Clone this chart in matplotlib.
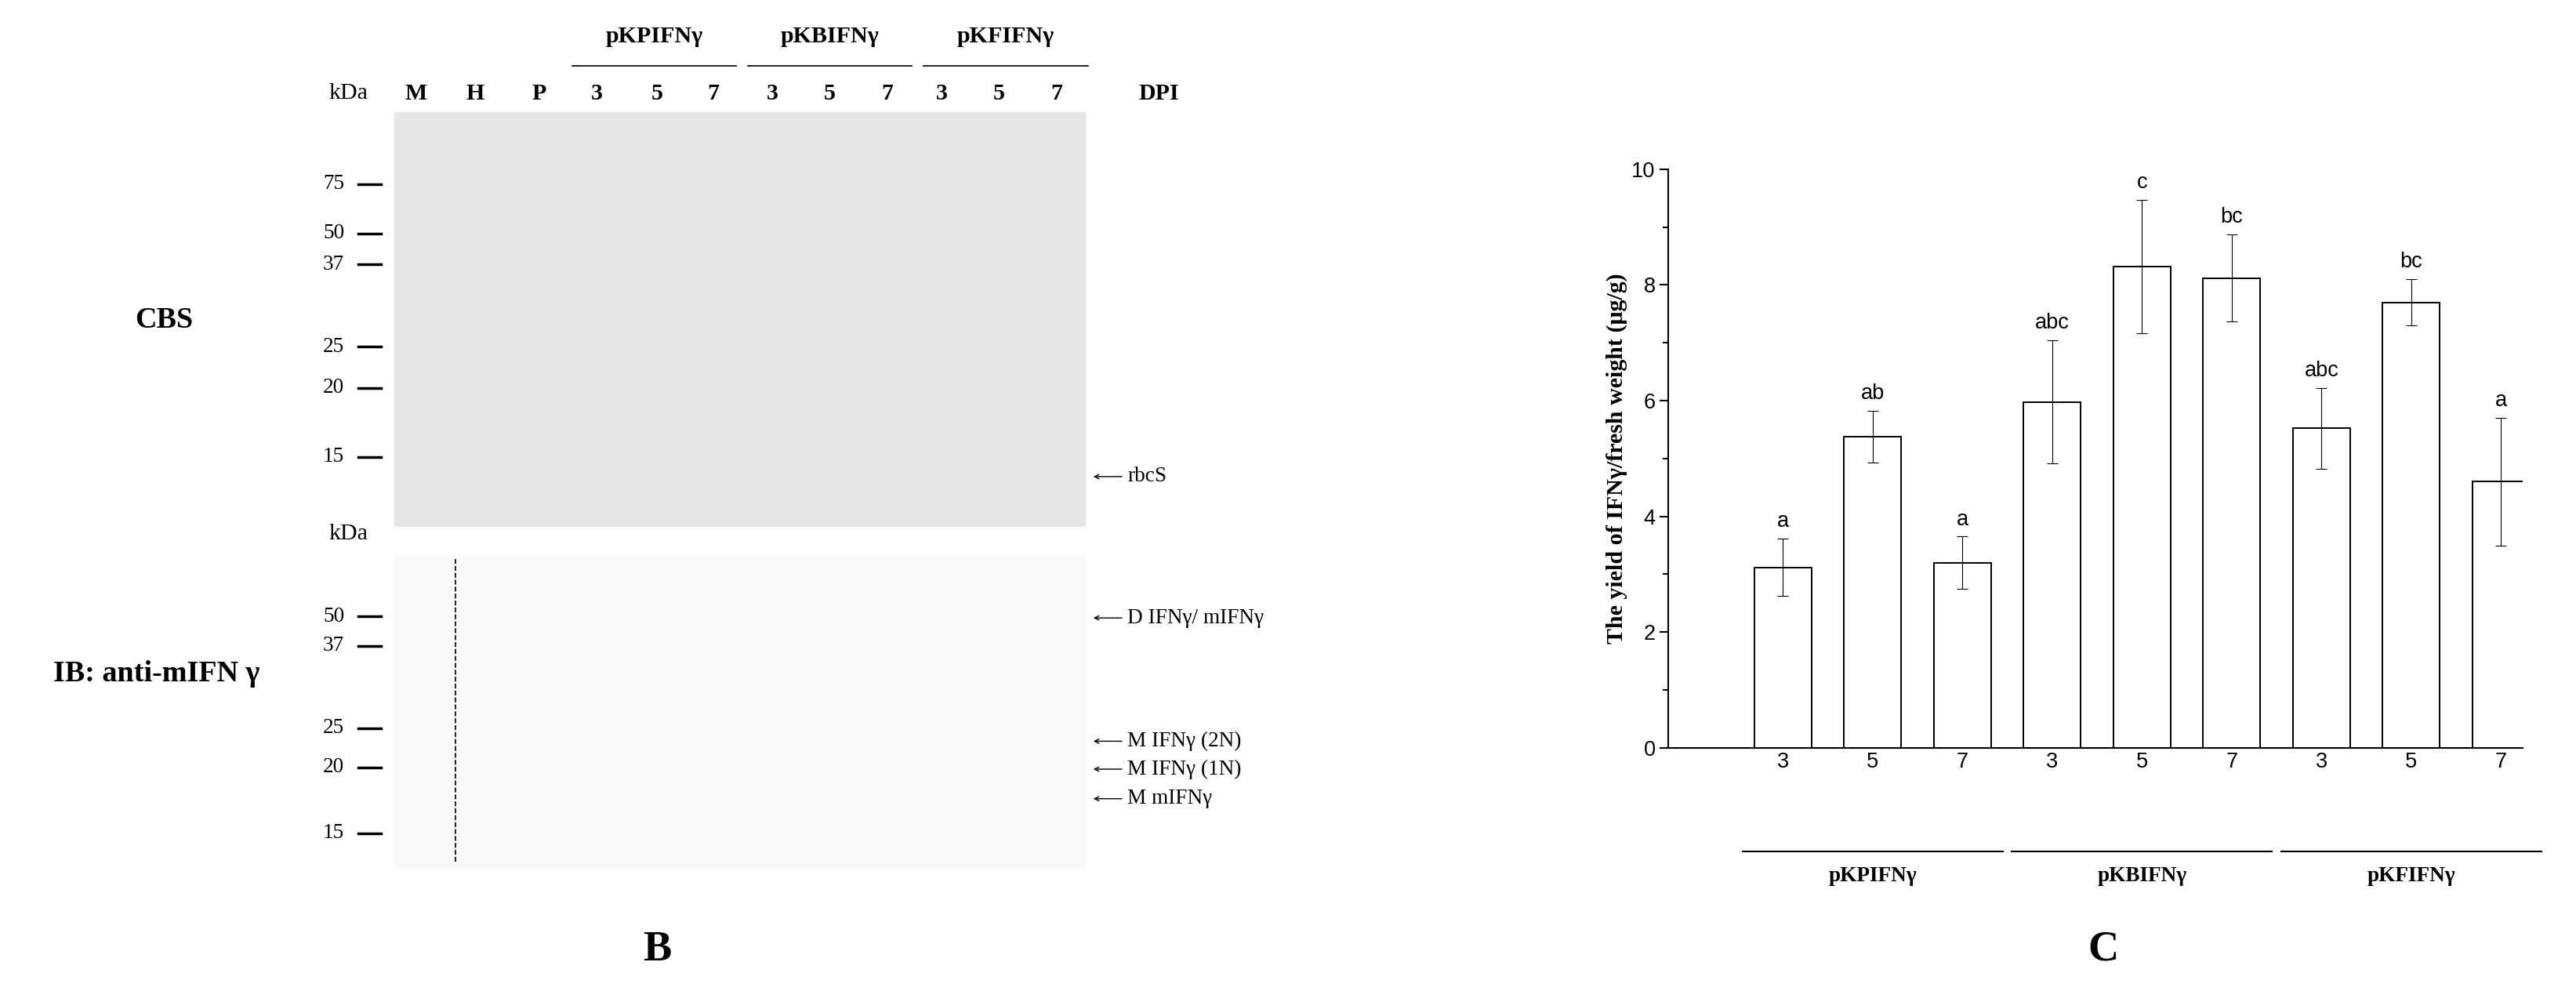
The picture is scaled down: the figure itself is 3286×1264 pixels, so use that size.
import matplotlib
matplotlib.use("Agg")
import matplotlib.pyplot as plt
from matplotlib.patches import Rectangle

groups = ["pKPIFNγ", "pKBIFNγ", "pKFIFNγ"]
days = ["3", "5", "7"]
values = [3.12, 5.38, 3.20, 5.98, 8.32, 8.12, 5.52, 7.70, 4.60]
errors = [0.50, 0.45, 0.45, 1.07, 1.15, 0.75, 0.70, 0.40, 1.10]
letters = ["a", "ab", "a", "abc", "c", "bc", "abc", "bc", "a"]

W, H = 1568, 603
fig = plt.figure(figsize=(32.87, 12.64), dpi=100)
S = 3287 / W * 72 / 100 * 1.3

ov = fig.add_axes([0, 0, 1, 1])
ov.set_xlim(0, W); ov.set_ylim(H, 0); ov.axis("off")
serif = "Liberation Serif"

# ---- panel B (gel) schematic ----
ov.add_patch(Rectangle((240, 68), 420, 252, color="#e6e6e6", zorder=0))
ov.add_patch(Rectangle((240, 338), 420, 190, color="#fafafa", zorder=0))
ov.plot([277, 277], [340, 525], ls="--", color="k", lw=1.2)
lanes = ["M", "H", "P", "3", "5", "7", "3", "5", "7", "3", "5", "7"]
lx = [253, 289, 328, 363, 400, 434, 470, 505, 540, 573, 608, 643]
for t, x in zip(lanes, lx):
    ov.text(x, 57, t, ha="center", va="center", fontsize=11*S, fontweight="bold", family=serif)
ov.text(212, 57, "kDa", ha="center", va="center", fontsize=11*S, family=serif)
ov.text(705, 57, "DPI", ha="center", va="center", fontsize=11*S, fontweight="bold", family=serif)
for g, x0 in zip(groups, [348, 455, 562]):
    ov.plot([x0, x0+100], [40, 40], color="k", lw=1.2)
    ov.text(x0+50, 22, g, ha="center", va="center", fontsize=11*S, fontweight="bold", family=serif)
for t, y in [("75", 112), ("50", 142), ("37", 161), ("25", 211), ("20", 236), ("15", 278),
             ("50", 375), ("37", 393), ("25", 443), ("20", 467), ("15", 507)]:
    ov.text(203, y, t, ha="center", va="center", fontsize=10*S, family=serif)
    ov.plot([218, 232], [y, y], color="k", lw=2.5)
ov.text(212, 325, "kDa", ha="center", va="center", fontsize=11*S, family=serif)
ov.text(100, 195, "CBS", ha="center", va="center", fontsize=14*S, fontweight="bold", family=serif)
ov.text(95, 410, "IB: anti-mIFN γ", ha="center", va="center", fontsize=14*S, fontweight="bold", family=serif)
for t, y in [("rbcS", 290), ("D IFNγ/ mIFNγ", 376), ("M IFNγ (2N)", 451),
             ("M IFNγ (1N)", 468), ("M mIFNγ", 486)]:
    ov.annotate("", xy=(664, y), xytext=(684, y), arrowprops=dict(arrowstyle="->", lw=1))
    ov.text(686, y, t, ha="left", va="center", fontsize=10*S, family=serif)
ov.text(400, 578, "B", ha="center", va="center", fontsize=20*S, fontweight="bold", family=serif)
ov.text(1280, 578, "C", ha="center", va="center", fontsize=20*S, fontweight="bold", family=serif)

# ---- panel C bar chart ----
ax = fig.add_axes([1015/W, 1-455/H, 520/W, 352/H])
x = list(range(len(values)))
ax.bar(x, values, width=0.64, color="white", edgecolor="black", linewidth=1.4)
ax.errorbar(x, values, yerr=errors, fmt="none", ecolor="black", elinewidth=0.8, capsize=5, capthick=0.8)
for xi, v, e, l in zip(x, values, errors, letters):
    ax.text(xi, v+e+0.12, l, ha="center", va="bottom", fontsize=10*S, family="Liberation Sans")
ax.set_xlim(-1.28, 8.24)
ax.set_ylim(0, 10)
ax.set_yticks([0, 2, 4, 6, 8, 10])
ax.set_yticks([1, 3, 5, 7, 9], minor=True)
ax.set_xticks(x)
ax.set_xticklabels(days*3, fontsize=10*S, family="Liberation Sans")
for lab in ax.get_yticklabels():
    lab.set_fontsize(10*S); lab.set_family("Liberation Sans")
ax.tick_params(axis="y", direction="out", length=8, width=1.5)
ax.tick_params(axis="y", which="minor", length=5, width=1.5)
ax.tick_params(axis="x", length=0, pad=4)
for s in ["top", "right"]:
    ax.spines[s].set_visible(False)
for s in ["left", "bottom"]:
    ax.spines[s].set_linewidth(1.5)
ax.set_ylabel("The yield of IFNγ/fresh weight (μg/g)", fontsize=11*S, fontweight="bold", family=serif)
for i, g in enumerate(groups):
    c = 3*i + 1
    ax.plot([c-1.45, c+1.45], [-0.179, -0.179], color="k", lw=1.5,
            transform=ax.get_xaxis_transform(), clip_on=False)
    ax.text(c, -0.222, g, ha="center", va="center", fontsize=10*S, fontweight="bold",
            family=serif, transform=ax.get_xaxis_transform())

fig.savefig("out.png", dpi=100)
